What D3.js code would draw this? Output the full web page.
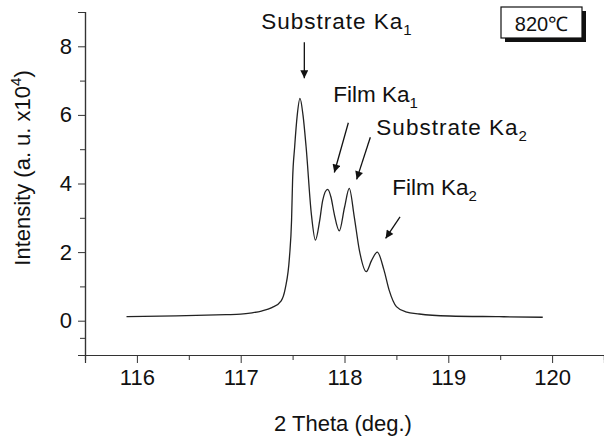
<!DOCTYPE html>
<html>
<head>
<meta charset="utf-8">
<script src="https://cdn.jsdelivr.net/npm/d3@7"></script>
<style>
  body { margin: 0; background: #fff; }
  svg { font-family: "Liberation Sans", Arial, sans-serif; }
</style>
</head>
<body>
<div id="chart"></div>
<script>
// 2 theta (deg.) and intensity (x10^4)
const twoTheta = [115.90, 116.38, 116.86, 117.00, 117.11, 117.20, 117.30, 117.39, 117.43, 117.47,
  117.49, 117.50, 117.52, 117.545, 117.571, 117.60, 117.63, 117.68, 117.72, 117.76,
  117.79, 117.837, 117.87, 117.90, 117.95, 118.00, 118.046, 118.094, 118.143, 118.21,
  118.26, 118.316, 118.38, 118.43, 118.50, 118.59, 118.72, 119.01, 119.49, 119.91]
const intensity = [0.12, 0.14, 0.175, 0.19, 0.23, 0.28, 0.38, 0.58, 0.95, 1.86,
  2.93, 4.10, 5.07, 6.0, 6.48, 6.0, 5.07, 3.13, 2.35, 2.9,
  3.51, 3.83, 3.6, 3.13, 2.62, 3.3, 3.86, 3.03, 2.06, 1.43,
  1.75, 2.0, 1.48, 0.89, 0.41, 0.26, 0.195, 0.137, 0.117, 0.10]

const xTicks = [116, 117, 118, 119, 120]
const xMinor = [115.5, 116.5, 117.5, 118.5, 119.5, 120.5]
const yTicks = [0, 2, 4, 6, 8]
const yMinor = [-0.5, 1, 3, 5, 7, 9]

// peak labels: text, subscript, label anchor and arrow (data units)
const peakNames = ['Substrate Ka', 'Film Ka', 'Substrate Ka', 'Film Ka']
const peakSubs = ['1', '1', '2', '2']
const labelAt = [[117.198, 8.49], [117.892, 6.37], [118.307, 5.40], [118.461, 3.66]]
const arrowFrom = [[117.613, 8.12], [118.037, 5.77], [118.249, 5.35], [118.535, 3.03]]
const arrowTo = [[117.613, 7.07], [117.902, 4.32], [118.117, 4.12], [118.396, 2.40]]

const tempLabel = '820℃'

const width = 604
const height = 436

const xScale = d3.scaleLinear().domain([115.5, 120.5]).range([85, 604])
const yScale = d3.scaleLinear().domain([-1, 9]).range([355, 12])

const svg = d3.select('#chart').append('svg')
  .attr('width', width)
  .attr('height', height)

svg.append('defs').append('marker')
  .attr('id', 'head')
  .attr('viewBox', '0 0 10 10')
  .attr('refX', 10)
  .attr('refY', 5)
  .attr('markerUnits', 'userSpaceOnUse')
  .attr('markerWidth', 9)
  .attr('markerHeight', 8)
  .attr('orient', 'auto')
  .append('path')
  .attr('d', 'M0,0 L10,5 L0,10 Z')
  .attr('fill', '#111')

// axes
const xAxis = svg.append('g')
  .attr('transform', `translate(0, ${yScale(-1)})`)
  .call(d3.axisBottom(xScale).tickValues(xTicks).tickSize(8).tickPadding(6).tickFormat(d3.format('d')))
xAxis.append('g')
  .call(d3.axisBottom(xScale).tickValues(xMinor).tickSize(5).tickFormat(''))

const yAxis = svg.append('g')
  .attr('transform', `translate(${xScale(115.5)}, 0)`)
  .call(d3.axisLeft(yScale).tickValues(yTicks).tickSize(7).tickPadding(6).tickFormat(d3.format('d')))
yAxis.append('g')
  .call(d3.axisLeft(yScale).tickValues(yMinor).tickSize(5).tickFormat(''))

svg.selectAll('.domain').attr('stroke', '#333').attr('stroke-width', 1.2)
svg.selectAll('.tick line').attr('stroke', '#333')
svg.selectAll('.tick text')
  .attr('font-size', 22)
  .attr('fill', '#111')
  .attr('font-family', '"Liberation Sans", Arial, sans-serif')

// curve
const line = d3.line()
  .x((d) => xScale(d[0]))
  .y((d) => yScale(d[1]))
  .curve(d3.curveMonotoneX)

svg.append('path')
  .datum(twoTheta.map((t, i) => [t, intensity[i]]))
  .attr('fill', 'none')
  .attr('stroke', '#222')
  .attr('stroke-width', 1.3)
  .attr('d', line)

// arrows and labels
arrowFrom.forEach((p, i) => {
  svg.append('line')
    .attr('x1', xScale(p[0]))
    .attr('y1', yScale(p[1]))
    .attr('x2', xScale(arrowTo[i][0]))
    .attr('y2', yScale(arrowTo[i][1]))
    .attr('stroke', '#111')
    .attr('stroke-width', 1.3)
    .attr('marker-end', 'url(#head)')

  const t = svg.append('text')
    .attr('x', xScale(labelAt[i][0]))
    .attr('y', yScale(labelAt[i][1]))
    .attr('font-size', 22.5)
    .attr('fill', '#111')
  t.append('tspan')
    .attr('letter-spacing', peakNames[i].startsWith('Sub') ? 1 : 0)
    .text(peakNames[i])
  t.append('tspan').attr('font-size', 15).attr('dy', 6).text(peakSubs[i])
})

// temperature box with shadow
const box = svg.append('g').attr('transform', 'translate(501, 7)')
box.append('rect').attr('x', 4).attr('y', 4).attr('width', 81).attr('height', 31).attr('fill', '#111')
box.append('rect').attr('width', 81).attr('height', 31).attr('fill', '#fff').attr('stroke', '#111').attr('stroke-width', 1.2)
box.append('text')
  .attr('x', 40.5)
  .attr('y', 24)
  .attr('text-anchor', 'middle')
  .attr('font-size', 20)
  .attr('fill', '#111')
  .text(tempLabel)

// axis titles
svg.append('text')
  .attr('x', 343)
  .attr('y', 431)
  .attr('text-anchor', 'middle')
  .attr('font-size', 22)
  .attr('fill', '#111')
  .text('2 Theta (deg.)')

const yTitle = svg.append('text')
  .attr('transform', 'translate(30, 168) rotate(-90)')
  .attr('text-anchor', 'middle')
  .attr('font-size', 22)
  .attr('fill', '#111')
yTitle.append('tspan').text('Intensity (a. u. x10')
yTitle.append('tspan').attr('font-size', 15).attr('dy', -9).text('4')
yTitle.append('tspan').attr('dy', 9).text(')')
</script>
</body>
</html>
